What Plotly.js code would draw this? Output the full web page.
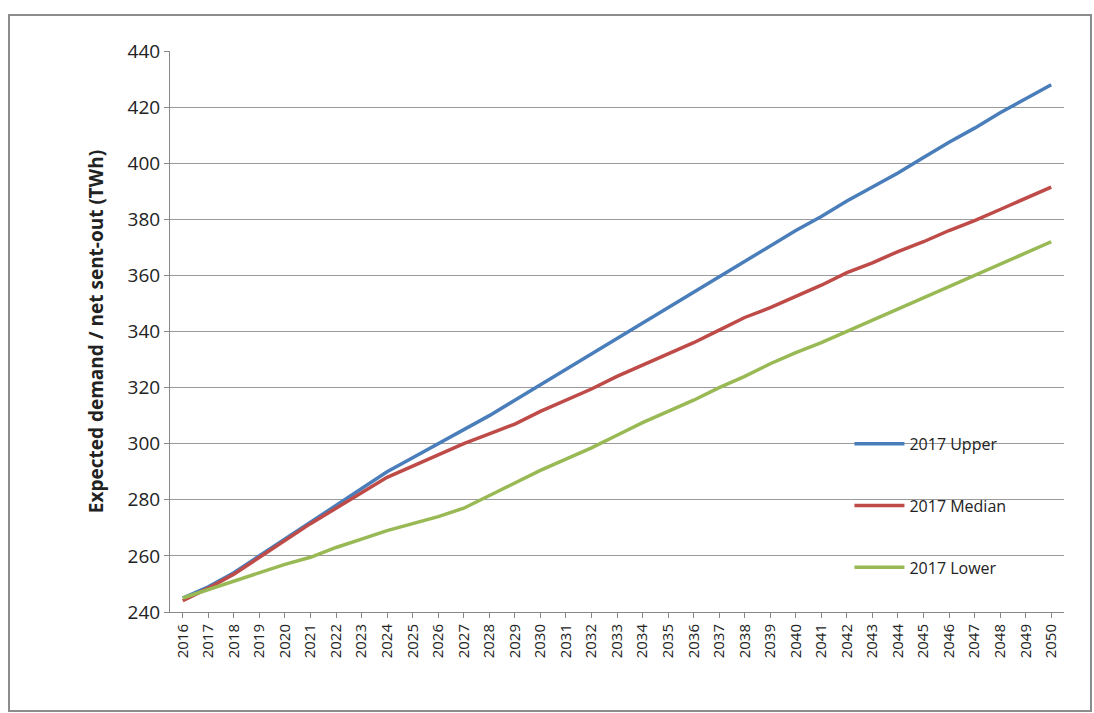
<!DOCTYPE html>
<html>
<head>
<script src="https://cdn.plot.ly/plotly-3.0.1.min.js"></script>
<style>
  body { margin: 0; background: #fff; }
  #chart { width: 1094px; height: 713px; }
  .frame { position: absolute; left: 8px; top: 14px; width: 1080px; height: 694px; border: 2px solid #8c8c8c; pointer-events: none; }
</style>
</head>
<body>
<div id="chart"></div>
<div class="frame"></div>
<script>
const years = [];
for (let y = 2016; y <= 2050; y++) years.push(String(y));

const upper = [245, 249, 254, 260, 266, 272, 278, 284, 290, 295, 300, 305, 310, 315.5, 321, 326.5, 332, 337.5, 343, 348.5,
  354, 359.5, 365, 370.5, 376, 381, 386.5, 391.5, 396.5, 402, 407.5, 412.5, 418, 423, 428];
const median = [244, 248.5, 253.5, 259.5, 265.5, 271.5, 277, 282.5, 288, 292, 296, 300, 303.5, 307, 311.5, 315.5, 319.5, 324, 328, 332,
  336, 340.5, 345, 348.5, 352.5, 356.5, 361, 364.5, 368.5, 372, 376, 379.5, 383.5, 387.5, 391.5];
const lower = [245, 248, 251, 254, 257, 259.5, 263, 266, 269, 271.5, 274, 277, 281.5, 286, 290.5, 294.5, 298.5, 303, 307.5, 311.5,
  315.5, 320, 324, 328.5, 332.5, 336, 340, 344, 348, 352, 356, 360, 364, 368, 372];

const line = (name, y, color) => ({ x: years, y: y, name: name, legendgroup: name, type: 'scatter', mode: 'lines', line: { color: color, width: 3.5 } });

Plotly.newPlot('chart', [
  line('2017 Upper', upper, '#4a7ebb'),
  line('2017 Median', median, '#be4b48'),
  line('2017 Lower', lower, '#98b954')
], {
  width: 1094, height: 713,
  margin: { l: 170, r: 30, t: 51, b: 101 },
  paper_bgcolor: '#fff', plot_bgcolor: '#fff',
  font: { family: 'Open Sans, Arial', color: '#222' },
  xaxis: {
    type: 'category', tickangle: -90, tickfont: { size: 15 },
    showgrid: false, showline: true, linecolor: '#888', ticks: 'outside', ticklen: 5, tickcolor: '#888',
    range: [-0.5, 34.5]
  },
  yaxis: {
    range: [240, 440], dtick: 20, tickfont: { size: 19 },
    showgrid: true, gridcolor: '#9a9a9a', gridwidth: 1, showline: true, linecolor: '#888',
    ticks: 'outside', ticklen: 5, tickcolor: '#888', zeroline: false,
    title: { text: 'Expected demand / net sent-out (TWh)', font: { size: 19, family: 'Open Sans, Arial', weight: 'bold' }, standoff: 18 }
  },
  legend: {
    x: 0.76, y: 0.33, xanchor: 'left', yanchor: 'top', bgcolor: 'rgba(255,255,255,0)',
    font: { size: 16 }, tracegroupgap: 38, itemwidth: 50
  },
  showlegend: true
}, { displayModeBar: false });
</script>
</body>
</html>
